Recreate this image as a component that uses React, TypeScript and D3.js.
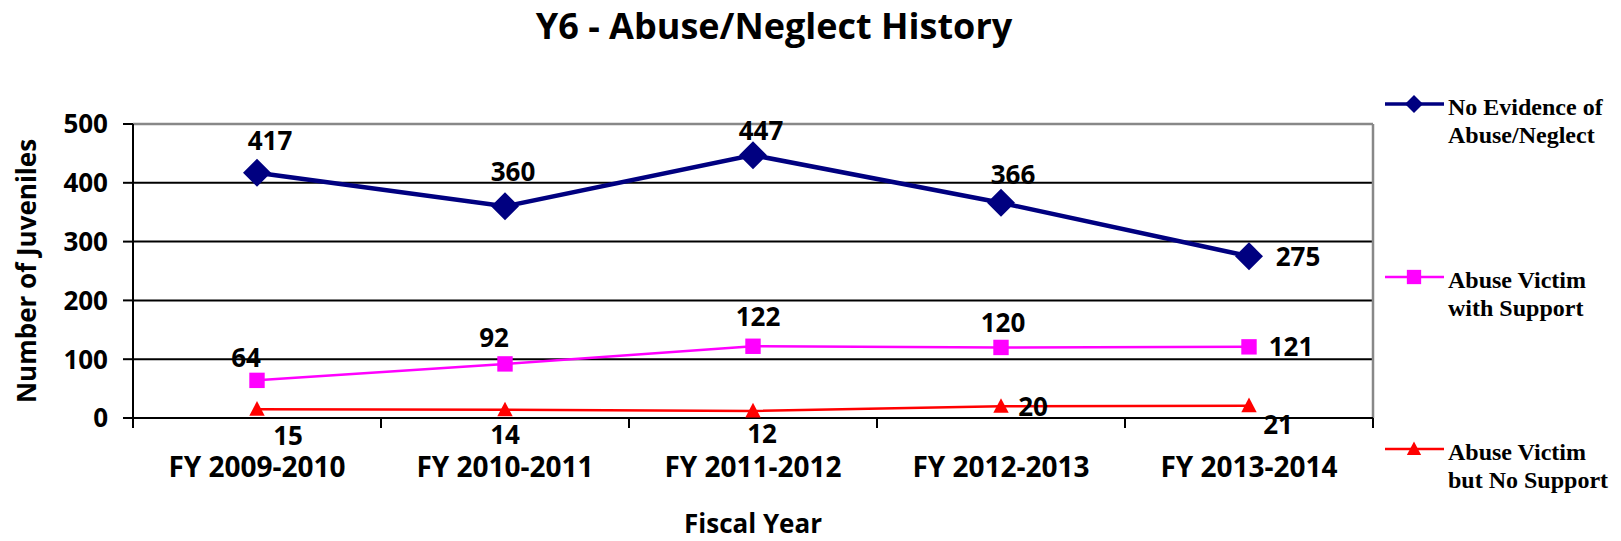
import React from "react";
import * as d3 from "d3";

const title = "Y6 - Abuse/Neglect History";
const categories = ["FY 2009-2010", "FY 2010-2011", "FY 2011-2012", "FY 2012-2013", "FY 2013-2014"];
const noEvidence = [417, 360, 447, 366, 275];
const victimWithSupport = [64, 92, 122, 120, 121];
const victimNoSupport = [15, 14, 12, 20, 21];
const yTicks = [0, 100, 200, 300, 400, 500];
const yTitle = "Number of Juveniles";
const xTitle = "Fiscal Year";

// label placement offsets (styling, relative to each point)
const offNoEvidence: [number, number][] = [[13, -32], [8, -35], [8, -25], [12, -28], [49, 0]];
const offWithSupport: [number, number][] = [[-11, -23], [-11, -26], [5, -30], [2, -25], [42, 0]];
const offNoSupport: [number, number][] = [[31, 26], [0, 25], [9, 23], [32, 0], [29, 19]];

const W = 1621, H = 541;
const L = 133, R = 1373, T = 124, B = 418;

export default function App() {
  const x = d3.scaleBand<string>().domain(categories).range([L, R]);
  const cx = (c: string) => (x(c) as number) + x.bandwidth() / 2;
  const y = d3.scaleLinear().domain([0, 500]).range([B, T]);
  const line = d3.line<number>().x((_, i) => cx(categories[i])).y((d) => y(d));

  const series = [
    { name: ["No Evidence of", "Abuse/Neglect"], data: noEvidence, color: "#000080", width: 4.5, marker: "diamond", off: offNoEvidence, ly: 104 },
    { name: ["Abuse Victim", "with Support"], data: victimWithSupport, color: "#FF00FF", width: 2.5, marker: "square", off: offWithSupport, ly: 277 },
    { name: ["Abuse Victim", "but No Support"], data: victimNoSupport, color: "#FF0000", width: 2.5, marker: "triangle", off: offNoSupport, ly: 449 },
  ];

  const marker = (type: string, px: number, py: number, color: string, s: number, key?: any) => {
    if (type === "diamond") {
      return <path key={key} d={`M${px},${py - s}L${px + s},${py}L${px},${py + s}L${px - s},${py}Z`} fill={color} />;
    }
    if (type === "square") {
      const h = s * 0.55;
      return <rect key={key} x={px - h} y={py - h} width={2 * h} height={2 * h} fill={color} />;
    }
    const h = s * 0.55;
    return <path key={key} d={`M${px},${py - h * 1.05}L${px + h},${py + h * 0.85}L${px - h},${py + h * 0.85}Z`} fill={color} />;
  };

  const font = "'Open Sans', sans-serif";
  const boundaries = categories.map((c) => x(c) as number).concat([R]);

  return (
    <svg width={W} height={H} style={{ position: "absolute", left: 0, top: 0, background: "#fff" }}>
      <rect x={0} y={0} width={W} height={H} fill="#fff" />
      <text x={774} y={39} textAnchor="middle" fontFamily={font} fontWeight="bold" fontSize={36} fill="#000">{title}</text>

      {/* gridlines */}
      {yTicks.filter((t) => t > 0 && t < 500).map((t) => (
        <line key={t} x1={L} x2={R} y1={y(t)} y2={y(t)} stroke="#000" strokeWidth={2} />
      ))}
      {/* top & right border */}
      <line x1={L} x2={R} y1={T} y2={T} stroke="#888" strokeWidth={2.5} />
      <line x1={R} x2={R} y1={T} y2={B} stroke="#888" strokeWidth={2.5} />
      {/* axes */}
      <line x1={L} x2={L} y1={T} y2={B + 10} stroke="#000" strokeWidth={2} />
      <line x1={L - 10} x2={R} y1={B} y2={B} stroke="#000" strokeWidth={2} />
      {yTicks.map((t) => (
        <g key={t}>
          <line x1={L - 10} x2={L} y1={y(t)} y2={y(t)} stroke="#000" strokeWidth={2} />
          <text x={108} y={y(t)} dy="0.36em" textAnchor="end" fontFamily={font} fontWeight="bold" fontSize={26}>{t}</text>
        </g>
      ))}
      {boundaries.map((b, i) => (
        <line key={i} x1={b} x2={b} y1={B} y2={B + 10} stroke="#000" strokeWidth={2} />
      ))}
      {categories.map((c) => (
        <text key={c} x={cx(c)} y={477} textAnchor="middle" fontFamily={font} fontWeight="bold" fontSize={28}>{c}</text>
      ))}
      <text x={753} y={533} textAnchor="middle" fontFamily={font} fontWeight="bold" fontSize={26}>{xTitle}</text>
      <text transform={`translate(27,${(T + B) / 2}) rotate(-90)`} dy="0.36em" textAnchor="middle" fontFamily={font} fontWeight="bold" fontSize={26}>{yTitle}</text>

      {/* series */}
      {series.map((s, si) => (
        <g key={si}>
          <path d={line(s.data) as string} fill="none" stroke={s.color} strokeWidth={s.width} />
          {s.data.map((v, i) => marker(s.marker, cx(categories[i]), y(v), s.color, 14, i))}
        </g>
      ))}
      {series.map((s, si) => (
        <g key={"l" + si}>
          {s.data.map((v, i) => (
            <text key={i} x={cx(categories[i]) + s.off[i][0]} y={y(v) + s.off[i][1]} dy="0.36em" textAnchor="middle" fontFamily={font} fontWeight="bold" fontSize={26}>{v}</text>
          ))}
        </g>
      ))}

      {/* legend */}
      {series.map((s, si) => (
        <g key={"lg" + si}>
          <line x1={1385} x2={1444} y1={s.ly} y2={s.ly} stroke={s.color} strokeWidth={s.marker === "diamond" ? 3.5 : 2.5} />
          {marker(s.marker, 1414, s.ly, s.color, s.marker === "diamond" ? 9 : 13)}
          <text x={1448} y={s.ly + 11} fontFamily="'Liberation Serif', serif" fontWeight="bold" fontSize={24}>{s.name[0]}</text>
          <text x={1448} y={s.ly + 39} fontFamily="'Liberation Serif', serif" fontWeight="bold" fontSize={24}>{s.name[1]}</text>
        </g>
      ))}
    </svg>
  );
}
